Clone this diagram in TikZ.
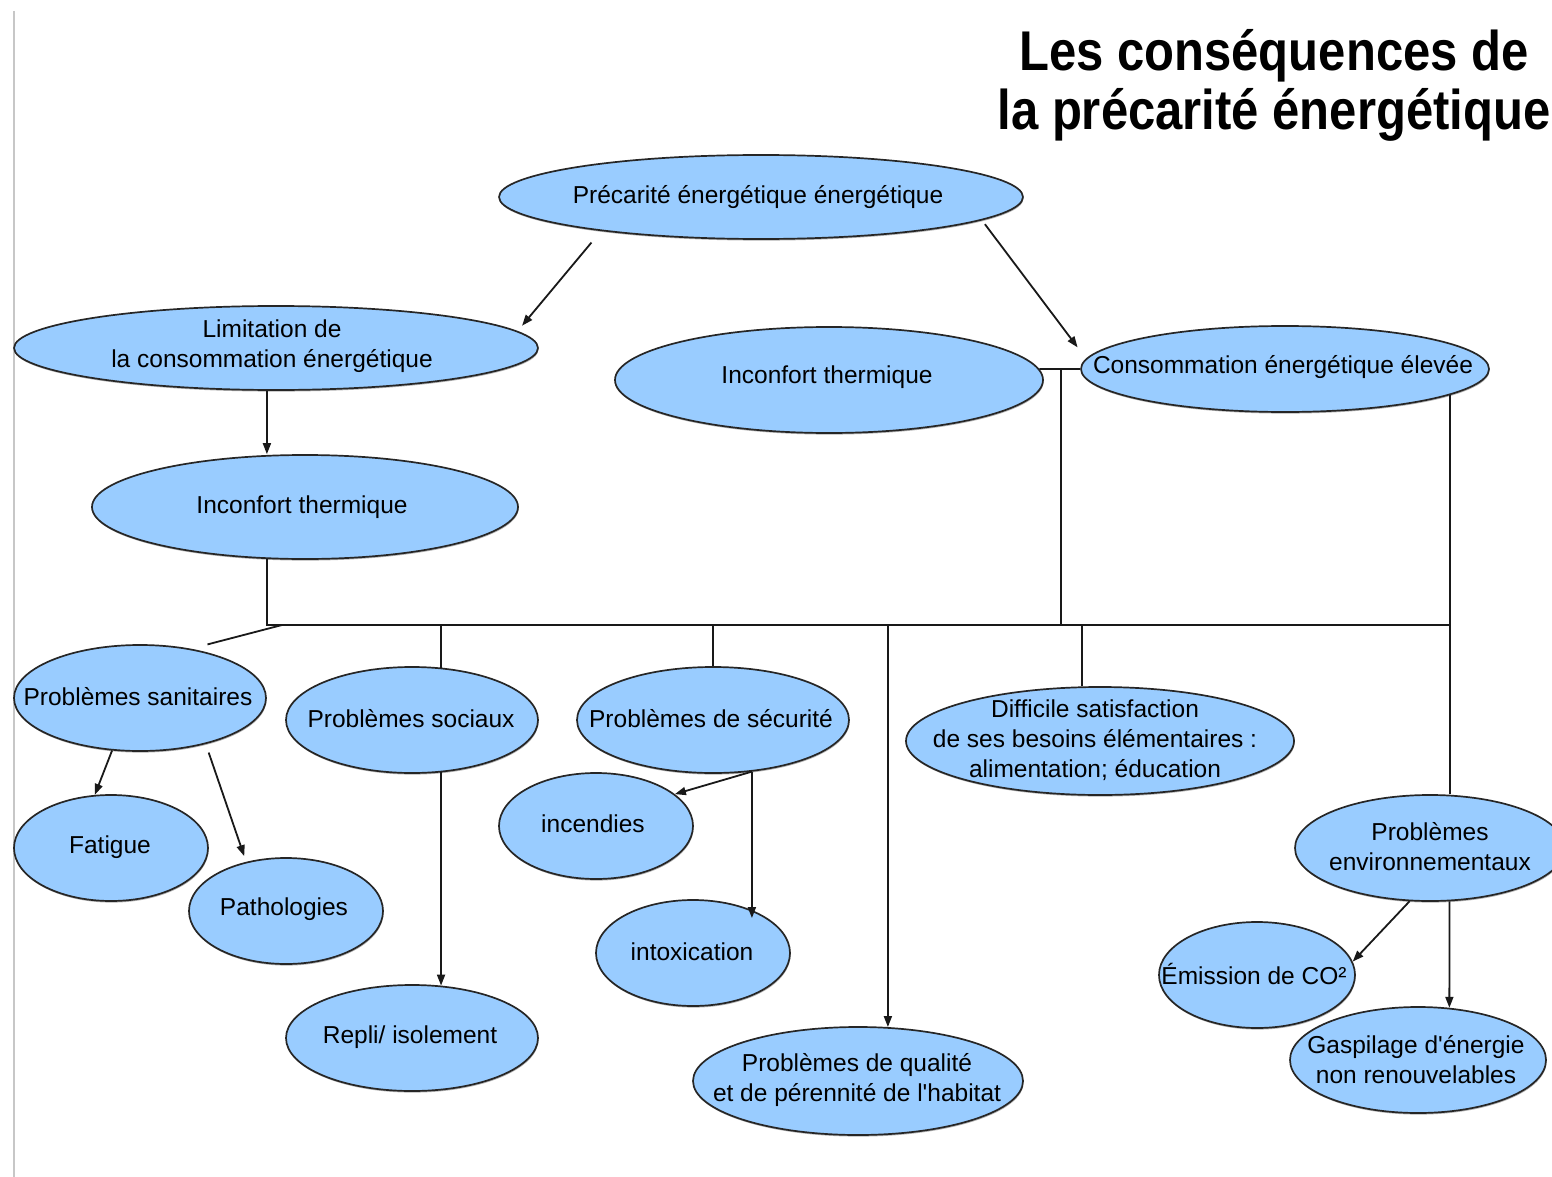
\documentclass[tikz,border=0pt]{standalone}
\usepackage{fontspec}
\setmainfont{Liberation Sans}[Ligatures=TeXOff]
\newfontfamily\titlefont{Liberation Sans}[FakeStretch=0.875]
\usetikzlibrary{shapes.geometric,arrows.meta,calc,shadows}
\definecolor{bubfill}{HTML}{99CCFF}
\begin{document}
\begin{tikzpicture}[x=1pt,y=-1pt,
  bub/.style={ellipse, draw=black!85, line width=1.7pt, fill=bubfill, inner sep=0pt,
    drop shadow={shadow xshift=0.6pt, shadow yshift=-1.6pt, opacity=0.3, fill=black}},
  lbl/.style={align=center, font=\fontsize{24.5}{30}\selectfont, inner sep=0pt},
  ttl/.style={anchor=base, inner sep=0pt, font=\titlefont\bfseries\fontsize{56}{59}\selectfont},
  con/.style={draw=black!90, line width=1.8pt},
  arr/.style={con, -{Triangle[length=11pt,width=8pt]}},
]
\fill[white] (0,0) rectangle (1552,1177);
\useasboundingbox (0,0) rectangle (1552,1177);
\draw[black!22, line width=2pt] (14,11) -- (14,1177);

% title
\node[ttl] (title1) at (1274,71) {Les conséquences de};
\node[ttl] (title2) at (1274,130) {la précarité énergétique};

% bubbles
\node[bub, minimum width=524pt, minimum height=84pt] (top) at (761,197) {};
\node[lbl] (top-t) at (758,197) {Précarité énergétique énergétique};

\node[bub, minimum width=524pt, minimum height=84pt] (lim) at (276,348) {};
\node[lbl] (lim-t) at (272,346) {Limitation de\\la consommation énergétique};

\node[bub, minimum width=428pt, minimum height=106pt] (inc1) at (829,380) {};
\node[lbl] (inc1-t) at (827,377) {Inconfort thermique};

\node[bub, minimum width=408pt, minimum height=86pt] (cons) at (1285,369) {};
\node[lbl] (cons-t) at (1283,367) {Consommation énergétique élevée};

\node[bub, minimum width=426pt, minimum height=104pt] (inc2) at (305,507) {};
\node[lbl] (inc2-t) at (302,507) {Inconfort thermique};

\node[bub, minimum width=252pt, minimum height=106pt] (san) at (140,698) {};
\node[lbl] (san-t) at (138,697) {Problèmes sanitaires};

\node[bub, minimum width=252pt, minimum height=106pt] (soc) at (412,720) {};
\node[lbl] (soc-t) at (411,719) {Problèmes sociaux};

\node[bub, minimum width=272pt, minimum height=106pt] (sec) at (713,720) {};
\node[lbl] (sec-t) at (711,719) {Problèmes de sécurité};

\node[bub, minimum width=388pt, minimum height=108pt] (diff) at (1100,741) {};
\node[lbl] (diff-t) at (1095,740) {Difficile satisfaction\\de ses besoins élémentaires :\\alimentation; éducation};

\node[bub, minimum width=270pt, minimum height=106pt] (env) at (1430,848) {};
\node[lbl] (env-t) at (1430,847) {Problèmes\\environnementaux};

\node[bub, minimum width=194pt, minimum height=106pt] (fat) at (111,848) {};
\node[lbl] (fat-t) at (110,847) {Fatigue};

\node[bub, minimum width=194pt, minimum height=106pt] (pat) at (286,911) {};
\node[lbl] (pat-t) at (284,909) {Pathologies};

\node[bub, minimum width=194pt, minimum height=106pt] (incd) at (596,826) {};
\node[lbl] (incd-t) at (593,824) {incendies};

\node[bub, minimum width=194pt, minimum height=106pt] (intox) at (693,953) {};
\node[lbl] (intox-t) at (692,952) {intoxication};

\node[bub, minimum width=252pt, minimum height=106pt] (rep) at (412,1038) {};
\node[lbl] (rep-t) at (410,1037) {Repli/ isolement};

\node[bub, minimum width=330pt, minimum height=108pt] (qual) at (858,1081) {};
\node[lbl] (qual-t) at (857,1080) {Problèmes de qualité\\et de pérennité de l'habitat};

\node[bub, minimum width=196pt, minimum height=106pt] (emis) at (1257,975) {};
\node[lbl] (emis-t) at (1254,974) {Émission de CO²};

\node[bub, minimum width=256pt, minimum height=106pt] (gasp) at (1418,1060) {};
\node[lbl] (gasp-t) at (1416,1060) {Gaspilage d'énergie\\non renouvelables};

% bus coordinates
\coordinate (busR) at (1449,625);
\coordinate (busS) at (282,625);
\coordinate (j1) at (1061,369);

% connectors
\draw[arr, shorten <=15pt, shorten >=7pt] (top.192) -- (lim.4);
\draw[arr, shorten <=5pt, shorten >=14pt] (top.354) -- (cons.177);
\draw[arr] (lim.258) -- (lim.258 |- inc2.north);
\draw[con] (inc2.234) |- (busR);
\draw[con, shorten >=17pt] (busS) -- (san.44);
\draw[con] (soc.61) -- (soc.61 |- busR);
\draw[con] (sec.north) -- (sec.north |- busR);
\draw[arr] (qual.61 |- busR) -- (qual.61);
\draw[con] (diff.108) -- (diff.108 |- busR);
\draw[con] (inc1.3) -- (cons.west);
\draw[con] (j1) -- (j1 |- busR);
\draw[con] (cons.351) -- (cons.351 |- env.north);
\draw[arr] (san.242) -- (fat.107);
\draw[arr, shorten <=9pt, shorten >=6pt] (san.325) -- (pat.129);
\draw[arr] (soc.299) -- (rep.61);
\draw[arr] (sec.307) -- (incd.22);
\draw[arr, shorten >=-8pt] (sec.307) -- (sec.307 |- intox.36);
\draw[arr] (env.249) -- (emis.8);
\draw[arr] (env.290) -- (gasp.59);
\end{tikzpicture}
\end{document}
